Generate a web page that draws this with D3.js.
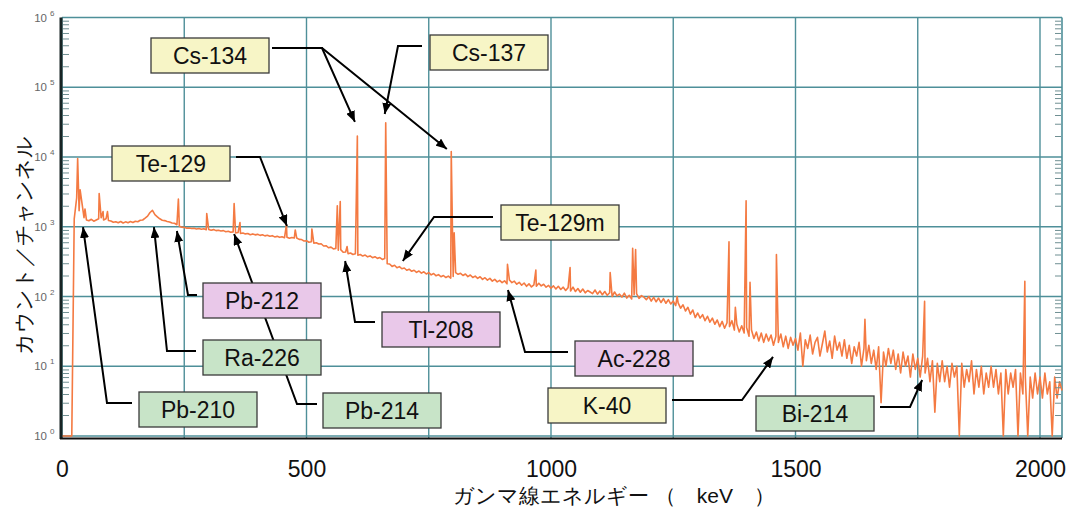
<!DOCTYPE html>
<html>
<head>
<meta charset="utf-8">
<script src="https://cdn.jsdelivr.net/npm/d3@7"></script>
<style>
body { margin: 0; background: #fff; }
text { font-family: "Liberation Sans", Arial, sans-serif; }
</style>
</head>
<body>
<div id="chart"></div>
<script>
// Set Dimensions
const width = 1084;
const height = 508;
const plotLeft = 62;
const plotRight = 1062;
const plotTop = 17.5;
const plotBottom = 436;

// Spectrum: continuum counts read every 5 keV from 0 keV
const stepKeV = 5;
const continuum = [
  // 0 - 95
  1, 1, 1, 1, 1, 1300, 2600, 1700, 2400, 1350, 1250, 1220, 1280, 1200, 1250, 1300, 1350, 1250, 1300, 1230,
  // 100 - 195
  1210, 1160, 1180, 1140, 1190, 1130, 1175, 1140, 1190, 1150, 1200, 1180, 1240, 1250, 1330, 1420, 1600, 1720, 1490, 1390,
  // 200 - 295
  1300, 1240, 1225, 1190, 1170, 1130, 1120, 1070, 1015, 985, 980, 955, 960, 945, 950, 930, 945, 920, 935, 905,
  // 300 - 395
  915, 890, 910, 880, 890, 870, 880, 850, 860, 835, 845, 815, 825, 800, 812, 790, 800, 770, 790, 765,
  // 400 - 495
  778, 752, 768, 740, 755, 730, 745, 715, 728, 705, 718, 695, 708, 685, 700, 690, 688, 660, 655, 625,
  // 500 - 595
  630, 600, 610, 580, 590, 565, 570, 530, 535, 500, 510, 480, 490, 460, 470, 430, 435, 410, 420, 400,
  // 600 - 695
  410, 390, 400, 380, 392, 370, 382, 360, 372, 352, 362, 340, 350, 295, 292, 270, 280, 258, 268, 250,
  // 700 - 795
  256, 238, 246, 230, 238, 222, 232, 216, 226, 210, 220, 204, 214, 198, 206, 192, 200, 187, 196, 184,
  // 800 - 895
  194, 220, 208, 215, 200, 210, 193, 203, 187, 196, 182, 192, 176, 186, 172, 182, 166, 176, 162, 170,
  // 900 - 995
  158, 168, 152, 172, 158, 166, 150, 160, 145, 156, 140, 152, 137, 147, 140, 155, 142, 150, 136, 144,
  // 1000 - 1095
  132, 142, 128, 140, 126, 136, 122, 134, 120, 136, 118, 130, 115, 128, 113, 122, 116, 110, 124, 108,
  // 1100 - 1195
  120, 106, 118, 104, 113, 100, 116, 102, 108, 98, 112, 95, 104, 92, 106, 110, 94, 103, 98, 90,
  // 1200 - 1295
  100, 86, 97, 84, 95, 82, 93, 80, 90, 78, 86, 74, 81, 68, 76, 62, 70, 56, 64, 50,
  // 1300 - 1395
  58, 49, 55, 45, 52, 43, 49, 40, 46, 37, 44, 35, 42, 37, 45, 33, 40, 31, 38, 30,
  // 1400 - 1495
  36, 27, 33, 25, 31, 23, 30, 22, 29, 23, 28, 20, 27, 22, 29, 19, 27, 18, 26, 20,
  // 1500 - 1595
  25, 17, 30, 10, 24, 18, 28, 15, 22, 26, 14, 21, 32, 16, 23, 13, 27, 17, 22, 14,
  // 1600 - 1695
  24, 13, 20, 11, 19, 14, 22, 10, 18, 12, 20, 11, 17, 9, 19, 3, 16, 10, 18, 11,
  // 1700 - 1795
  17, 9, 15, 8, 16, 10, 14, 7, 15, 9, 13, 7, 14, 8, 13, 6, 12, 2.2, 11, 6,
  // 1800 - 1895
  12, 6, 10, 5, 11, 7, 10, 1, 11, 5, 9, 6, 12, 4, 9, 5, 10, 4, 8, 5,
  // 1900 - 1995
  10, 5, 9, 4, 8, 1, 9, 4, 8, 5, 9, 1, 8, 4, 7, 1, 7, 3.5, 8, 4,
  // 2000 - 2045
  7, 3.5, 8, 4, 6, 1, 7, 3.5, 6, 4.5
];

// Photopeaks [keV, counts at top]
const peaks = [
  [32, 9500], [37, 3400], [47, 1800], [76, 3000], [84, 1650], [93, 1650],
  [238, 2500], [296, 1550], [352, 2150], [364, 1150], [459, 1070], [477, 900],
  [511, 930], [563, 2000], [569, 2300], [583, 520], [604, 20000], [662, 31000],
  [796, 12000], [802, 820], [911, 290], [969, 240], [1039, 260], [1121, 220],
  [1167, 490], [1173, 470], [1258, 100], [1364, 610], [1377, 70], [1399, 2350],
  [1407, 160], [1461, 400], [1642, 47], [1764, 85], [1969, 165]
];

// Axis ticks
const xTicks = [0, 500, 1000, 1500, 2000];
const xGrid = [0, 250, 500, 750, 1000, 1250, 1500, 1750, 2000];
const yExponents = [0, 1, 2, 3, 4, 5, 6];

// Nuclide labels and where their arrows point [keV, counts]
const nuclides = ["Cs-134", "Cs-137", "Te-129", "Te-129m", "Pb-212", "Ra-226",
                  "Pb-210", "Pb-214", "Tl-208", "Ac-228", "K-40", "Bi-214"];
const nuclideKind = ["yellow", "yellow", "yellow", "yellow", "pink", "green",
                     "green", "green", "pink", "pink", "yellow", "green"];
const arrowTips = [
  [[599, 31800], [787, 13000]], [[660, 41300]], [[460, 1025]], [[697, 323]],
  [[235, 869]], [[188, 991]], [[43, 991]], [[352, 787]],
  [[579, 323]], [[912, 124]], [[1454, 13.6]], [[1759, 6.35]]
];

// Box layout in pixels: [left, top], then leader start and elbow
const boxPos = [[151, 38], [430, 35], [112, 146], [501, 205], [203, 283], [203, 340],
                [139, 392], [323, 393], [382, 312], [575, 341], [548, 388], [756, 396]];
const leaderStart = [[272, 48], [422, 46], [236, 157], [493, 217], [197, 295], [196, 351],
                     [132, 403], [317, 404], [375, 322], [568, 352], [672, 400], [880, 407]];
const leaderElbow = [[322, 48], [398, 46], [260, 157], [434, 217], [188, 295], [167, 351],
                     [107, 403], [297, 404], [355, 322], [525, 352], [742, 400], [910, 407]];
const boxW = 118;
const boxH = 35;
const boxFill = { yellow: "#f7f5c6", pink: "#e9c8e9", green: "#c8e4c8" };

const gridColor = "#4e8f99";

const svg = d3.select("#chart")
  .append("svg")
  .attr("width", width)
  .attr("height", height);

// Scales
const xScale = d3.scaleLinear()
  .domain([0, 2045])
  .range([plotLeft, plotRight]);

const yScale = d3.scaleLog()
  .domain([1, 1e6])
  .range([plotBottom, plotTop])
  .clamp(true);

// Grid lines
svg.append("g")
  .selectAll("line")
  .data(yExponents).enter()
  .append("line")
  .attr("x1", plotLeft).attr("x2", plotRight)
  .attr("y1", d => yScale(Math.pow(10, d)))
  .attr("y2", d => yScale(Math.pow(10, d)))
  .attr("stroke", gridColor).attr("stroke-width", 1.4);

svg.append("g")
  .selectAll("line")
  .data(xGrid).enter()
  .append("line")
  .attr("x1", d => xScale(d)).attr("x2", d => xScale(d))
  .attr("y1", plotTop).attr("y2", plotBottom + 2)
  .attr("stroke", gridColor).attr("stroke-width", 1.4);

// right border
svg.append("line")
  .attr("x1", plotRight).attr("x2", plotRight)
  .attr("y1", plotTop).attr("y2", plotBottom + 2)
  .attr("stroke", gridColor).attr("stroke-width", 1.6);

// Spectrum
let spectrum = continuum.map((c, i) => [i * stepKeV, c]);
spectrum = spectrum.concat(peaks).sort((a, b) => a[0] - b[0]);

const line = d3.line()
  .x(d => xScale(d[0]))
  .y(d => yScale(d[1]));

svg.append("path")
  .datum(spectrum)
  .attr("d", line)
  .attr("fill", "none")
  .attr("stroke", "#f47a42")
  .attr("stroke-width", 1.6)
  .attr("stroke-linejoin", "round");

// Minor log ticks on both sides
const minorTicks = yScale.ticks().filter(v => Math.abs(Math.log10(v) - Math.round(Math.log10(v))) > 1e-6);

svg.append("g")
  .attr("transform", "translate(" + (plotLeft + 1) + ",0)")
  .call(d3.axisRight(yScale).tickValues(minorTicks).tickSize(6).tickFormat(""))
  .call(g => g.select(".domain").remove())
  .selectAll("line").attr("stroke", "#6f8f92");

svg.append("g")
  .attr("transform", "translate(" + (plotRight - 1) + ",0)")
  .call(d3.axisLeft(yScale).tickValues(minorTicks).tickSize(6).tickFormat(""))
  .call(g => g.select(".domain").remove())
  .selectAll("line").attr("stroke", "#6f8f92");

// Axis lines
svg.append("line")
  .attr("x1", plotLeft - 1).attr("x2", plotLeft - 1)
  .attr("y1", plotTop).attr("y2", plotBottom + 3)
  .attr("stroke", "#182424").attr("stroke-width", 3);

svg.append("line")
  .attr("x1", plotLeft - 2).attr("x2", plotRight)
  .attr("y1", plotBottom + 2.5).attr("y2", plotBottom + 2.5)
  .attr("stroke", "#111").attr("stroke-width", 2.2);

// Y tick labels 10^n
svg.append("g")
  .selectAll("text")
  .data(yExponents).enter()
  .append("text")
  .attr("x", 47)
  .attr("y", d => yScale(Math.pow(10, d)) + 4)
  .attr("text-anchor", "end")
  .attr("font-size", 11.5)
  .attr("fill", "#666")
  .text("10");

svg.append("g")
  .selectAll("text")
  .data(yExponents).enter()
  .append("text")
  .attr("x", 50)
  .attr("y", d => yScale(Math.pow(10, d)) - 2)
  .attr("font-size", 8)
  .attr("fill", "#666")
  .text(d => d);

// X tick labels
svg.append("g")
  .attr("transform", "translate(0,477)")
  .call(d3.axisBottom(xScale).tickValues(xTicks).tickSize(0).tickPadding(0).tickFormat(d3.format("d")))
  .call(g => g.select(".domain").remove())
  .selectAll("text")
  .attr("y", 0).attr("dy", 0)
  .attr("font-size", 23)
  .attr("font-family", "'Liberation Sans', Arial, sans-serif")
  .attr("fill", "#111");

// Axis titles
svg.append("text")
  .attr("x", 453)
  .attr("y", 503)
  .attr("font-size", 21)
  .attr("font-family", "'Noto Sans CJK JP', sans-serif")
  .attr("fill", "#111")
  .style("white-space", "pre")
  .text("ガンマ線エネルギー （　keV　）");

svg.append("text")
  .attr("transform", "translate(31,245) rotate(-90)")
  .attr("text-anchor", "middle")
  .attr("font-size", 21)
  .attr("font-family", "'Noto Sans CJK JP', sans-serif")
  .attr("fill", "#111")
  .text("カウント／チャンネル");

// Arrow head marker
svg.append("defs").append("marker")
  .attr("id", "head")
  .attr("markerUnits", "userSpaceOnUse")
  .attr("markerWidth", 11).attr("markerHeight", 9)
  .attr("refX", 11).attr("refY", 4.5)
  .attr("orient", "auto")
  .append("path")
  .attr("d", "M0,0 L11,4.5 L0,9 Z")
  .attr("fill", "#000");

// Leader lines (drawn under the boxes)
const leaders = svg.append("g");
nuclides.forEach((name, i) => {
  arrowTips[i].forEach(tip => {
    const pts = [leaderStart[i], leaderElbow[i], [xScale(tip[0]), yScale(tip[1])]];
    leaders.append("polyline")
      .attr("points", pts.map(p => p.join(",")).join(" "))
      .attr("fill", "none")
      .attr("stroke", "#000")
      .attr("stroke-width", 2)
      .attr("marker-end", "url(#head)");
  });
});

// Label boxes
const boxes = svg.append("g")
  .selectAll("g")
  .data(nuclides).enter()
  .append("g")
  .attr("transform", (d, i) => "translate(" + boxPos[i][0] + "," + boxPos[i][1] + ")");

boxes.append("rect")
  .attr("width", boxW).attr("height", boxH)
  .attr("fill", (d, i) => boxFill[nuclideKind[i]])
  .attr("stroke", "#3a3a3a")
  .attr("stroke-width", 1.3);

boxes.append("text")
  .attr("x", boxW / 2)
  .attr("y", boxH / 2 + 8)
  .attr("text-anchor", "middle")
  .attr("font-size", 23)
  .attr("fill", "#111")
  .text(d => d);
</script>
</body>
</html>
